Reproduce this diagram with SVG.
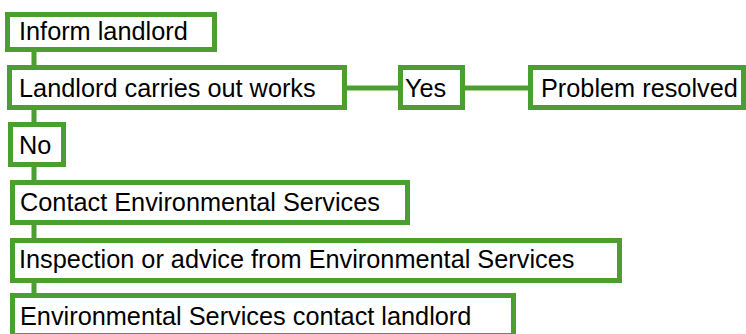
<svg xmlns="http://www.w3.org/2000/svg" width="746" height="334" viewBox="0 0 746 334">
<style>
.box{fill:#fff;stroke:#4a9f30;stroke-width:5}
.lbl{font-family:"Liberation Sans",Arial,sans-serif;font-size:25.3px;fill:#000}
.con{stroke:#4a9f30;stroke-width:5;fill:none}
</style>
<rect width="746" height="334" fill="#fff"/>
<g id="connectors">
<line class="con" x1="34" y1="50" x2="34" y2="67"/>
<line class="con" x1="34" y1="108" x2="34" y2="124"/>
<line class="con" x1="34" y1="165" x2="34" y2="182"/>
<line class="con" x1="34" y1="223" x2="34" y2="240"/>
<line class="con" x1="34" y1="281" x2="34" y2="295"/>
<line class="con" x1="345" y1="88" x2="400" y2="88"/>
<line class="con" x1="463" y1="88" x2="530" y2="88"/>
</g>
<g id="inform"><rect class="box" x="7.5" y="14.5" width="207" height="35"/><text class="lbl" x="19" y="40">Inform landlord</text></g>
<g id="works"><rect class="box" x="9.5" y="67.5" width="335" height="40"/><text class="lbl" x="19" y="97">Landlord carries out works</text></g>
<g id="yes"><rect class="box" x="400.5" y="67.5" width="62" height="40"/><text class="lbl" x="405" y="97">Yes</text></g>
<g id="resolved"><rect class="box" x="530.5" y="67.5" width="213" height="40"/><text class="lbl" x="541" y="97">Problem resolved</text></g>
<g id="no"><rect class="box" x="10.5" y="124.5" width="53" height="40"/><text class="lbl" x="19" y="154">No</text></g>
<g id="contact"><rect class="box" x="12.5" y="182.5" width="395" height="40"/><text class="lbl" x="20" y="211">Contact Environmental Services</text></g>
<g id="inspection"><rect class="box" x="12.5" y="240.5" width="607" height="40"/><text class="lbl" x="19" y="268">Inspection or advice from Environmental Services</text></g>
<g id="envcontact"><rect class="box" x="12.5" y="295.5" width="501" height="40"/><text class="lbl" x="20" y="325">Environmental Services contact landlord</text></g>
</svg>
